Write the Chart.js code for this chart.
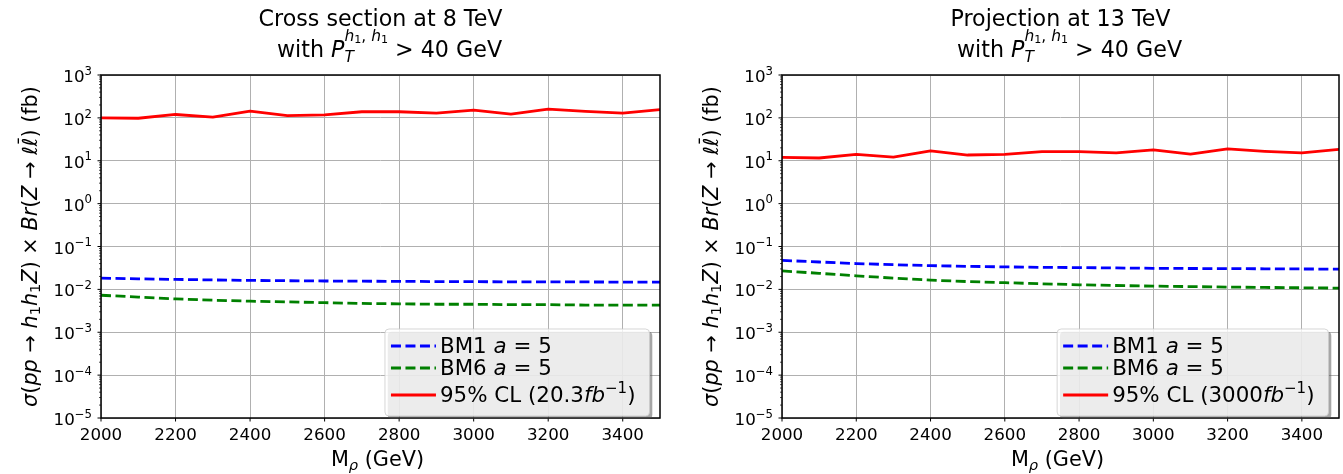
<!DOCTYPE html>
<html>
<head>
<meta charset="utf-8">
<script src="https://cdn.jsdelivr.net/npm/chart.js@4.4.1/dist/chart.umd.min.js"></script>
<style>
  body { margin: 0; background: #fff; }
  #wrap { position: relative; width: 1343px; height: 474px; }
  canvas { position: absolute; top: 0; }
</style>
</head>
<body>
<div id="wrap">
  <canvas id="left" width="680" height="474" style="left:0"></canvas>
  <canvas id="right" width="663" height="474" style="left:680px"></canvas>
</div>
<script>
// resonance masses (GeV)
const masses = [2000, 2100, 2200, 2300, 2400, 2500, 2600, 2700, 2800, 2900, 3000, 3100, 3200, 3300, 3400, 3500];

// 8 TeV cross sections (fb)
const bm1At8 = [0.0183, 0.0176, 0.0171, 0.0166, 0.0162, 0.0159, 0.0157, 0.0155, 0.0154, 0.0152, 0.0151, 0.0150, 0.0149, 0.0149, 0.0148, 0.0148];
const bm6At8 = [0.0073, 0.0066, 0.0060, 0.0056, 0.0053, 0.0051, 0.0049, 0.0047, 0.0046, 0.0045, 0.0045, 0.0044, 0.0044, 0.0043, 0.0043, 0.0043];
const limitAt8 = [100, 98, 120, 104, 144, 113, 118, 139, 139, 129, 152, 122, 160, 141, 129, 156];

// 13 TeV projection (fb)
const bm1At13 = [0.0475, 0.0435, 0.0400, 0.0377, 0.0358, 0.0345, 0.0334, 0.0327, 0.0322, 0.0316, 0.0310, 0.0307, 0.0305, 0.0302, 0.0299, 0.0297];
const bm6At13 = [0.0270, 0.0237, 0.0207, 0.0183, 0.0164, 0.0152, 0.0143, 0.0135, 0.0128, 0.0123, 0.0119, 0.0116, 0.0113, 0.0111, 0.0109, 0.0107];
const limitAt13 = [12.0, 11.6, 14.1, 12.2, 16.9, 13.6, 14.1, 16.3, 16.3, 15.2, 17.9, 14.3, 18.9, 16.6, 15.2, 18.5];

const xTicks = [2000, 2200, 2400, 2600, 2800, 3000, 3200, 3400];
const yExponents = [-5, -4, -3, -2, -1, 0, 1, 2, 3];

const FONT = "'DejaVu Sans', sans-serif";
const LEGEND_PX = 21.4;

function setFont(ctx, px, italic) {
    ctx.font = (italic ? 'italic ' : '') + px.toFixed(1) + 'px ' + FONT;
}

// segments: t = text, it = italic, s = size factor, dy = baseline shift (em), adv = advance, bar = overline
function richWidth(ctx, segs, px) {
    let w = 0;
    segs.forEach((g) => {
        setFont(ctx, px * (g.s || 1), g.it);
        if (g.adv !== false) w += ctx.measureText(g.t).width;
    });
    return w;
}

function drawRich(ctx, segs, x, y, px) {
    let cx = x;
    ctx.textAlign = 'left';
    ctx.textBaseline = 'alphabetic';
    segs.forEach((g) => {
        const size = px * (g.s || 1);
        setFont(ctx, size, g.it);
        const m = ctx.measureText(g.t).width;
        const by = y + (g.dy || 0) * px;
        ctx.fillText(g.t, cx, by);
        if (g.bar) ctx.fillRect(cx + m * 0.3, by - size * 0.93, m * 0.62, size * 0.065);
        if (g.adv !== false) cx += m;
    });
}

const sup = (t) => ({ t, s: 0.7, dy: -0.44 });

const titleLine2 = [
    { t: 'with ' }, { t: 'P', it: true },
    { t: 'T', it: true, s: 0.7, dy: 0.22, adv: false },
    { t: 'h', it: true, s: 0.7, dy: -0.72 }, { t: '1', s: 0.5, dy: -0.62 },
    { t: ', ', s: 0.7, dy: -0.72 },
    { t: 'h', it: true, s: 0.7, dy: -0.72 }, { t: '1', s: 0.5, dy: -0.62 },
    { t: ' > 40 GeV' }
];

const yTitle = [
    { t: 'σ', it: true }, { t: '(' }, { t: 'pp', it: true }, { t: ' → ' },
    { t: 'h', it: true }, { t: '1', s: 0.7, dy: 0.15 },
    { t: 'h', it: true }, { t: '1', s: 0.7, dy: 0.15 },
    { t: 'Z', it: true }, { t: ')' }, { t: ' × ' }, { t: 'Br', it: true }, { t: '(' },
    { t: 'Z', it: true }, { t: ' → ' }, { t: 'ℓ', it: true }, { t: 'ℓ', it: true, bar: true },
    { t: ')' }, { t: ' (fb)' }
];

const xTitle = [{ t: 'M' }, { t: 'ρ', it: true, s: 0.7, dy: 0.2 }, { t: ' (GeV)' }];

function decor(cfg) {
    return {
        id: 'decor',
        afterDatasetsDraw(chart) {
            const { ctx, chartArea: a } = chart;
            ctx.save();
            ctx.strokeStyle = '#000';
            ctx.lineWidth = 1.5;
            ctx.strokeRect(a.left, a.top, a.right - a.left, a.bottom - a.top);
            ctx.restore();
        },
        afterDraw(chart) {
            const { ctx, chartArea: a } = chart;
            const xs = chart.scales.x, ys = chart.scales.y;
            const cx = (a.left + a.right) / 2;
            ctx.save();
            ctx.fillStyle = '#000';
            ctx.strokeStyle = '#000';

            // x ticks and labels
            ctx.lineWidth = 1;
            xTicks.forEach((v) => {
                const px = xs.getPixelForValue(v);
                ctx.beginPath();
                ctx.moveTo(px, a.bottom);
                ctx.lineTo(px, a.bottom + 3.5);
                ctx.stroke();
                setFont(ctx, 16.7, false);
                ctx.textAlign = 'center';
                ctx.textBaseline = 'alphabetic';
                ctx.fillText(String(v), px, 440);
            });

            // y major ticks, minor ticks and labels
            yExponents.forEach((k) => {
                const py = ys.getPixelForValue(Math.pow(10, k));
                ctx.lineWidth = 1;
                ctx.beginPath();
                ctx.moveTo(a.left, py);
                ctx.lineTo(a.left - 3.5, py);
                ctx.stroke();
                const lab = [{ t: '10' }, sup(k < 0 ? '−' + (-k) : String(k))];
                const w = richWidth(ctx, lab, 16.7);
                drawRich(ctx, lab, a.left - 9 - w, py + 7, 16.7);
                if (k < 3) {
                    ctx.lineWidth = 0.7;
                    for (let m = 2; m <= 9; m++) {
                        const pm = ys.getPixelForValue(m * Math.pow(10, k));
                        ctx.beginPath();
                        ctx.moveTo(a.left, pm);
                        ctx.lineTo(a.left - 2, pm);
                        ctx.stroke();
                    }
                }
            });

            // titles
            setFont(ctx, 22.2, false);
            ctx.textAlign = 'center';
            ctx.fillText(cfg.title, cx, 26);
            const tw = richWidth(ctx, titleLine2, 22.2);
            drawRich(ctx, titleLine2, cx + 9 - tw / 2, 57, 22.2);

            const xw = richWidth(ctx, xTitle, 20.8);
            drawRich(ctx, xTitle, cx - 3 - xw / 2, 466, 20.8);

            const yw = richWidth(ctx, yTitle, 20.8);
            ctx.save();
            ctx.translate(a.left - 64, (a.top + a.bottom) / 2);
            ctx.rotate(-Math.PI / 2);
            drawRich(ctx, yTitle, -yw / 2, 0, 20.8);
            ctx.restore();

            // legend
            const rows = chart.data.datasets.map((d) => d.legendText);
            const textW = Math.max(...rows.map((r) => richWidth(ctx, r, LEGEND_PX)));
            const bw = 55 + textW + 14;
            const bottom = a.bottom - 2, top = bottom - 87;
            const right = a.right - 10.5, left = right - bw;
            ctx.fillStyle = 'rgba(77,77,77,0.5)';
            ctx.beginPath();
            ctx.roundRect(left + 2.8, top + 2.8, bw, bottom - top, 4);
            ctx.fill();
            ctx.fillStyle = 'rgba(255,255,255,0.8)';
            ctx.strokeStyle = 'rgba(204,204,204,0.8)';
            ctx.lineWidth = 1;
            ctx.beginPath();
            ctx.roundRect(left, top, bw, bottom - top, 4);
            ctx.fill();
            ctx.stroke();
            const baselines = [24, 46, 73];
            chart.data.datasets.forEach((d, i) => {
                const by = top + baselines[i];
                ctx.strokeStyle = d.borderColor;
                ctx.lineWidth = d.borderWidth;
                ctx.setLineDash(d.borderDash || []);
                ctx.beginPath();
                ctx.moveTo(left + 6, by - 7);
                ctx.lineTo(left + 51, by - 7);
                ctx.stroke();
                ctx.setLineDash([]);
                ctx.fillStyle = '#000';
                drawRich(ctx, d.legendText, left + 55, by, LEGEND_PX);
            });
            ctx.restore();
        }
    };
}

function makeChart(id, pad, title, clText, bm1, bm6, limit) {
    const pts = (arr) => masses.map((m, i) => ({ x: m, y: arr[i] }));
    return new Chart(document.getElementById(id), {
        type: 'line',
        data: {
            datasets: [
                {
                    label: 'BM1 a = 5',
                    legendText: [{ t: 'BM1 ' }, { t: 'a', it: true }, { t: ' = 5' }],
                    data: pts(bm1),
                    borderColor: '#0000ff',
                    borderDash: [10, 4.5],
                    borderWidth: 2.8,
                },
                {
                    label: 'BM6 a = 5',
                    legendText: [{ t: 'BM6 ' }, { t: 'a', it: true }, { t: ' = 5' }],
                    data: pts(bm6),
                    borderColor: '#008000',
                    borderDash: [10, 4.5],
                    borderWidth: 2.8,
                },
                {
                    label: '95% CL',
                    legendText: [{ t: '95% CL (' + clText }, { t: 'fb', it: true }, sup('−1'), { t: ')' }],
                    data: pts(limit),
                    borderColor: '#ff0000',
                    borderWidth: 2.8,
                    borderJoinStyle: 'round',
                },
            ],
        },
        options: {
            responsive: false,
            animation: false,
            devicePixelRatio: 1,
            layout: { padding: pad },
            elements: { point: { radius: 0 }, line: { tension: 0 } },
            plugins: {
                legend: { display: false },
                title: { display: false },
                tooltip: { enabled: false },
            },
            scales: {
                x: {
                    type: 'linear',
                    min: 2000,
                    max: 3500,
                    afterBuildTicks: (s) => { s.ticks = xTicks.map((v) => ({ value: v })); },
                    afterFit: (s) => { s.height = 0; },
                    ticks: { display: false },
                    grid: { color: '#b0b0b0', lineWidth: 1, drawTicks: false },
                    border: { display: false },
                },
                y: {
                    type: 'logarithmic',
                    min: 1e-5,
                    max: 1e3,
                    afterBuildTicks: (s) => { s.ticks = yExponents.map((k) => ({ value: Math.pow(10, k) })); },
                    afterFit: (s) => { s.width = 0; },
                    ticks: { display: false },
                    grid: { color: '#b0b0b0', lineWidth: 1, drawTicks: false },
                    border: { display: false },
                },
            },
        },
        plugins: [decor({ title })],
    });
}

makeChart('left', { left: 101, right: 20, top: 75, bottom: 56 },
    'Cross section at 8 TeV', '20.3', bm1At8, bm6At8, limitAt8);
makeChart('right', { left: 102, right: 4, top: 75, bottom: 56 },
    'Projection at 13 TeV', '3000', bm1At13, bm6At13, limitAt13);
</script>
</body>
</html>
